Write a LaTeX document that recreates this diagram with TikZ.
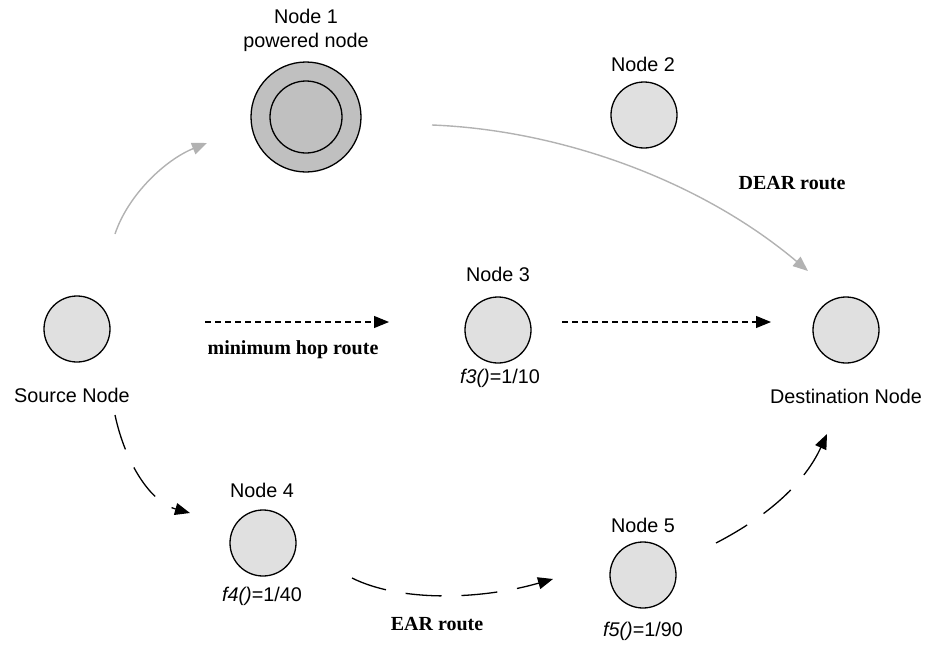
\documentclass[tikz,border=0pt]{standalone}
\usepackage{fontspec}
\setmainfont{Liberation Sans}
\newfontfamily\serifb{Liberation Serif}
\usetikzlibrary{arrows.meta}
\definecolor{nodefill}{RGB}{224,224,224}
\definecolor{powfill}{RGB}{192,192,192}
\definecolor{routegray}{RGB}{178,178,178}
\begin{document}
\begin{tikzpicture}[x=1pt,y=-1pt,
  nd/.style={circle,draw=black,line width=1.3pt,fill=nodefill,minimum size=66pt,inner sep=0pt},
  lbl/.style={font=\fontsize{19.8}{24}\selectfont,inner sep=0pt,align=center},
  rlbl/.style={font=\fontsize{20}{24}\selectfont\serifb\bfseries,inner sep=0pt},
  tip/.style={-{Triangle[length=15pt,width=12pt]}},
  gray route/.style={draw=routegray,line width=1.4pt,tip,color=routegray},
  hop route/.style={draw=black,line width=1.1pt,dash pattern=on 6pt off 4pt,tip},
  ear route/.style={draw=black,line width=1.3pt,dash pattern=on 36pt off 20pt,tip}]
\useasboundingbox (0,0) rectangle (926,645);
% nodes
\node[nd] (src) at (77,329) {};
\node[lbl] (srcl) at (72,395) {Source Node};
\node[nd,minimum size=110pt,fill=powfill] (n1) at (306,117) {};
\node[circle,draw=black,line width=1.3pt,minimum size=72pt,inner sep=0pt] (n1in) at (306,117) {};
\node[lbl] (n1l) at (306,30) {Node 1\\powered node};
\node[nd] (n2) at (644,115) {};
\node[lbl] (n2l) at (643,64) {Node 2};
\node[nd] (n3) at (498,330) {};
\node[lbl] (n3l) at (498,274) {Node 3};
\node[lbl] (n3f) at (500,378) {\textit{f3()}=1/10};
\node[nd] (dst) at (846,330) {};
\node[lbl] (dstl) at (846,396) {Destination Node};
\node[nd] (n4) at (263,543) {};
\node[lbl] (n4l) at (262,490) {Node 4};
\node[lbl] (n4f) at (262,596) {\textit{f4()}=1/40};
\node[nd] (n5) at (643,575) {};
\node[lbl] (n5l) at (643,525) {Node 5};
\node[lbl] (n5f) at (643,631) {\textit{f5()}=1/90};
% route labels
\node[rlbl] (dear) at (792,183) {DEAR route};
\node[rlbl] (mhop) at (293,350) {minimum hop route};
\node[rlbl] (ear) at (437,624) {EAR route};
% connector end points
\coordinate (a1) at (115,234);
\coordinate (a2) at (207,143);
\coordinate (b1) at (432,125);
\coordinate (b2) at (808,271);
\coordinate (c1) at (205,322);
\coordinate (c2) at (389,322);
\coordinate (d1) at (562,322);
\coordinate (d2) at (771,322);
\coordinate (e1) at (115,415);
\coordinate (e2) at (190,513);
\coordinate (f1) at (352,578);
\coordinate (f2) at (553,579);
\coordinate (g1) at (716,543);
\coordinate (g2) at (827,434);
% connectors
\draw[gray route] (a1) .. controls (128,195) and (165,160) .. (a2);
\draw[gray route] (b1) .. controls (560,130) and (700,180) .. (b2);
\draw[hop route] (c1) -- (c2);
\draw[hop route] (d1) -- (d2);
\draw[ear route] (e1) .. controls (125,462) and (150,502) .. (e2);
\draw[ear route] (f1) .. controls (400,602) and (480,600) .. (f2);
\draw[ear route] (g1) .. controls (770,515) and (805,482) .. (g2);
\end{tikzpicture}
\end{document}
